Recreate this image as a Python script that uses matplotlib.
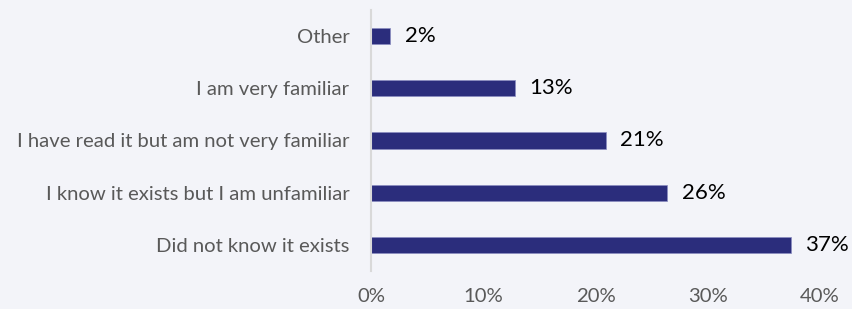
import matplotlib
matplotlib.use("Agg")
import matplotlib.pyplot as plt
from matplotlib.ticker import FuncFormatter

categories = ["Did not know it exists",
              "I know it exists but I am unfamiliar",
              "I have read it but am not very familiar",
              "I am very familiar",
              "Other"]
values = [37.4, 26.4, 20.9, 12.8, 1.7]
xticks = [0, 10, 20, 30, 40]

plt.rcParams['font.family'] = ['Lato', 'DejaVu Sans']
bg = "#F3F4F9"
bar_color = "#2B2D7C"

fig = plt.figure(figsize=(8.52, 3.09), dpi=100, facecolor=bg)
ax = fig.add_axes([371/852, 1-271/309, (820-371)/852, (271-10)/309], facecolor=bg)

ypos = list(range(len(categories)))
ax.barh(ypos, values, height=0.31, color=bar_color, edgecolor="#8A8CC0", linewidth=0.5)
for y, v in zip(ypos, values):
    ax.text(v + 1.3, y, f"{round(v)}%", va="center", ha="left", fontsize=16, color="black")

ax.set_yticks(ypos)
ax.set_yticklabels(categories, fontsize=14.6, color="#595959")
ax.set_xticks(xticks)
ax.xaxis.set_major_formatter(FuncFormatter(lambda x, p: f"{int(x)}%"))
ax.tick_params(axis='x', labelsize=14.6, labelcolor="#595959", length=0, pad=12)
ax.tick_params(axis='y', length=0, pad=15.5)
ax.set_xlim(0, 40)
ax.set_ylim(-0.5, 4.5)
for s in ["top", "right", "bottom"]:
    ax.spines[s].set_visible(False)
ax.spines["left"].set_color("#D9D9D9")
ax.spines["left"].set_linewidth(1.5)

fig.savefig("out.png", dpi=100, facecolor=bg)
